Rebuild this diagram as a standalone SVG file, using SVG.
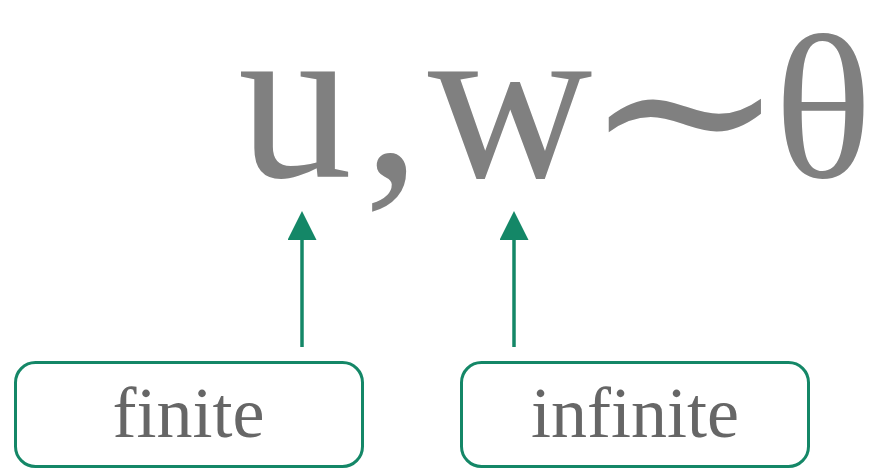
<svg xmlns="http://www.w3.org/2000/svg" width="879" height="470" viewBox="0 0 879 470">
<style>
.math{font-family:"Liberation Serif","DejaVu Serif",serif;fill:#808080;text-anchor:middle}
.box{fill:#fff;stroke:#148767;stroke-width:3}
.lbl{font-family:"Liberation Serif","DejaVu Serif",serif;font-size:72px;fill:#666;text-anchor:middle}
.conn{stroke:#148767;stroke-width:3.5;fill:none}
</style>
<defs>
<marker id="ah" viewBox="0 0 10 10" refX="0" refY="5" markerUnits="userSpaceOnUse" markerWidth="29" markerHeight="29" orient="auto">
<path d="M0,0 L10,5 L0,10 z" fill="#148767"/>
</marker>
</defs>
<g id="formula">
<text class="math" y="177" font-size="228"><tspan x="295">u</tspan><tspan x="392">,</tspan><tspan x="510">w</tspan></text>
<text class="math" transform="translate(685,181) scale(1.28,1.1)" x="0" y="0" font-size="190">∼</text>
<text class="math" x="823" y="177" font-size="205">θ</text>
</g>
<g id="connectors">
<line class="conn" x1="302" y1="347" x2="302" y2="240" marker-end="url(#ah)"/>
<line class="conn" x1="514" y1="347" x2="514" y2="240" marker-end="url(#ah)"/>
</g>
<g id="finite">
<rect class="box" x="15.5" y="362.5" width="347" height="104" rx="20"/>
<text class="lbl" x="188.5" y="437">finite</text>
</g>
<g id="infinite">
<rect class="box" x="461.5" y="362.5" width="347" height="104" rx="20"/>
<text class="lbl" x="635" y="437">infinite</text>
</g>
</svg>
